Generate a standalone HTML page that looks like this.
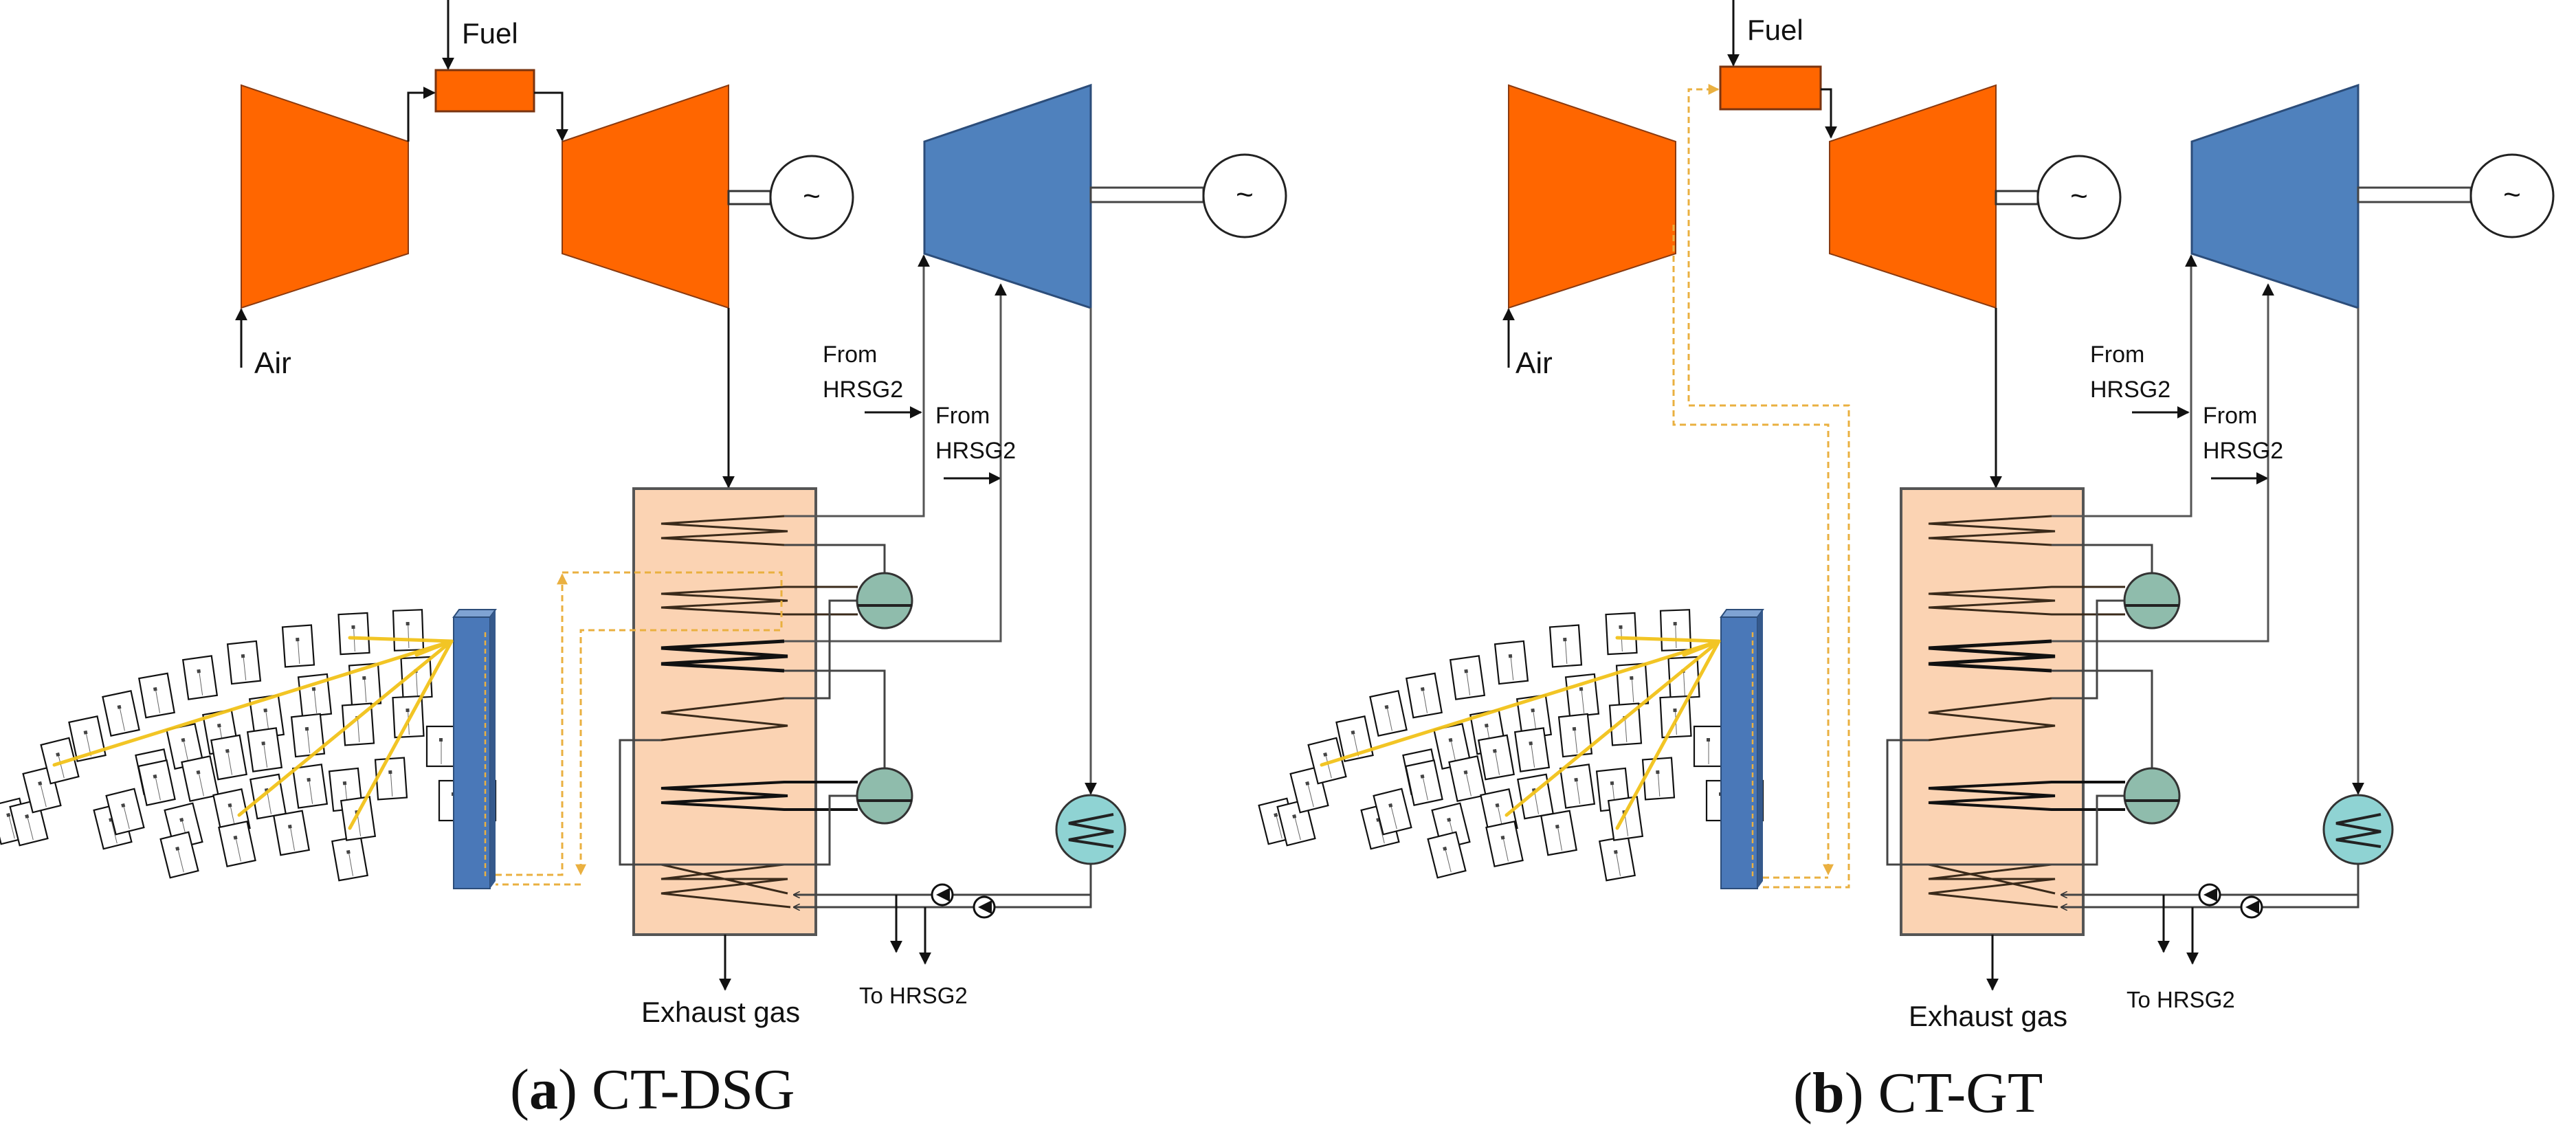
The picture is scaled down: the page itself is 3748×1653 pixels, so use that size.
<!DOCTYPE html>
<html><head><meta charset="utf-8"><style>
html,body{margin:0;padding:0;background:#fff}
svg{display:block}
text{font-family:"Liberation Sans",sans-serif;fill:#111}
.cap{font-family:"Liberation Serif",serif;font-size:84px}
</style></head><body>
<svg width="3748" height="1653" viewBox="0 0 3748 1653" xmlns="http://www.w3.org/2000/svg">
<defs>
<marker id="ar" viewBox="0 0 10 10" refX="9" refY="5" markerWidth="18" markerHeight="18" markerUnits="userSpaceOnUse" orient="auto"><path d="M0,0L10,5L0,10z" fill="#111"/></marker>
<marker id="ars" viewBox="0 0 10 10" refX="9" refY="5" markerWidth="10" markerHeight="10" markerUnits="userSpaceOnUse" orient="auto"><path d="M0,0L10,5L0,10" fill="none" stroke="#333" stroke-width="1.5"/></marker>
<marker id="ay" viewBox="0 0 10 10" refX="9" refY="5" markerWidth="16" markerHeight="16" markerUnits="userSpaceOnUse" orient="auto"><path d="M0,0L10,5L0,10z" fill="#eab040"/></marker>
<g id="hel"><rect x="-21" y="-29" width="42" height="58" fill="#fff" stroke="#111" stroke-width="2.2"/><line x1="0" y1="-8" x2="0" y2="26" stroke="#666" stroke-width="1"/><rect x="-3" y="-12" width="5" height="5" fill="#444"/></g>
<g id="common">
 <!-- gas turbine -->
 <polygon points="351,124 594,206 594,369 351,448" fill="#ff6600" stroke="#8a3a10" stroke-width="2"/>
 <polygon points="818,206 1060,124 1060,448 818,369" fill="#ff6600" stroke="#8a3a10" stroke-width="2"/>
 <rect x="1060" y="278" width="61" height="19" fill="#fff" stroke="#333" stroke-width="3"/>
 <circle cx="1181" cy="287" r="60" fill="#fff" stroke="#222" stroke-width="3"/>
 <text x="1181" y="300" font-size="44" text-anchor="middle">~</text>
 <!-- steam turbine -->
 <polygon points="1345,206 1587,124 1587,448 1345,369" fill="#4f81bd" stroke="#2c4d7a" stroke-width="3"/>
 <rect x="1587" y="273" width="164" height="21" fill="#fff" stroke="#444" stroke-width="3"/>
 <circle cx="1811" cy="285" r="60" fill="#fff" stroke="#222" stroke-width="3"/>
 <text x="1811" y="298" font-size="44" text-anchor="middle">~</text>
 <!-- air / exhaust -->
 <line x1="351" y1="535" x2="351" y2="450" stroke="#111" stroke-width="3" marker-end="url(#ar)"/>
 <line x1="1060" y1="448" x2="1060" y2="709" stroke="#111" stroke-width="3" marker-end="url(#ar)"/>
 <line x1="1258" y1="600" x2="1340" y2="600" stroke="#111" stroke-width="3" marker-end="url(#ar)"/>
 <line x1="1373" y1="696" x2="1455" y2="696" stroke="#111" stroke-width="3" marker-end="url(#ar)"/>
 <!-- HRSG -->
 <rect x="922" y="711" width="265" height="649" fill="#fbd3b3" stroke="#555" stroke-width="4"/>
 <g fill="none" stroke="#3a2a1a" stroke-width="3">
  <polyline points="1141,751 962,762 1146,773 962,783 1141,793"/>
  <polyline points="1248,854 1141,854 962,864 1146,874 962,884 1141,894 1248,894"/>
  <polyline points="1141,933 962,943 1146,955 962,966 1141,976" stroke-width="5" stroke="#111"/>
  <polyline points="1141,1016 962,1037 1146,1056 962,1077"/>
  <polyline points="1248,1138 1141,1138 962,1147 1146,1158 962,1168 1141,1178 1248,1178" stroke-width="4" stroke="#111"/>
  <polyline points="1141,1258 962,1279 1146,1279 962,1300 1150,1320"/>
  <polyline points="962,1258 1146,1300"/>
 </g>
 <g fill="none" stroke="#444" stroke-width="3">
  <polyline points="1141,751 1344,751 1344,372" stroke="#555" marker-end="url(#ar)"/>
  <polyline points="1141,933 1456,933 1456,414" stroke="#555" marker-end="url(#ar)"/>
  <polyline points="1141,793 1287,793 1287,834"/>
  <polyline points="1141,976 1287,976 1287,1117"/>
  <polyline points="1248,874 1207,874 1207,1016 1141,1016"/>
  <polyline points="962,1077 902,1077 902,1258 1207,1258 1207,1158 1248,1158"/>
  <polyline points="1587,448 1587,1155" stroke="#555" marker-end="url(#ar)"/>
  <polyline points="1587,1258 1587,1320 1155,1320" marker-end="url(#ars)"/>
  <polyline points="1587,1302 1155,1302" marker-end="url(#ars)"/>
  <line x1="1304" y1="1302" x2="1304" y2="1385" stroke="#111" marker-end="url(#ar)"/>
  <line x1="1346" y1="1320" x2="1346" y2="1402" stroke="#111" marker-end="url(#ar)"/>
  <line x1="1055" y1="1360" x2="1055" y2="1440" stroke="#111" marker-end="url(#ar)"/>
 </g>
 <circle cx="1287" cy="874" r="40" fill="#8fbcac" stroke="#333" stroke-width="3"/>
 <line x1="1248" y1="881" x2="1327" y2="881" stroke="#222" stroke-width="4"/>
 <circle cx="1287" cy="1158" r="40" fill="#8fbcac" stroke="#333" stroke-width="3"/>
 <line x1="1248" y1="1165" x2="1327" y2="1165" stroke="#222" stroke-width="4"/>
 <circle cx="1587" cy="1207" r="50" fill="#8fd3d3" stroke="#333" stroke-width="3"/>
 <polyline points="1620,1185 1555,1198 1620,1210 1555,1222 1620,1232" fill="none" stroke="#222" stroke-width="4"/>
 <circle cx="1371" cy="1302" r="15" fill="#fff" stroke="#111" stroke-width="3"/>
 <path d="M1382,1292 L1362,1302 L1382,1312z" fill="#111"/>
 <circle cx="1432" cy="1320" r="15" fill="#fff" stroke="#111" stroke-width="3"/>
 <path d="M1443,1310 L1423,1320 L1443,1330z" fill="#111"/>
 <!-- heliostats -->
 <g transform="rotate(0)">
 <use href="#hel" transform="translate(15,1195) rotate(-14)"/>
 <use href="#hel" transform="translate(42,1197) rotate(-14)"/>
 <use href="#hel" transform="translate(61,1149) rotate(-14)"/>
 <use href="#hel" transform="translate(87,1107) rotate(-14)"/>
 <use href="#hel" transform="translate(127,1075) rotate(-12)"/>
 <use href="#hel" transform="translate(176,1038) rotate(-12)"/>
 <use href="#hel" transform="translate(228,1012) rotate(-10)"/>
 <use href="#hel" transform="translate(291,986) rotate(-8)"/>
 <use href="#hel" transform="translate(355,964) rotate(-6)"/>
 <use href="#hel" transform="translate(434,940) rotate(-4)"/>
 <use href="#hel" transform="translate(515,922) rotate(-3)"/>
 <use href="#hel" transform="translate(594,917) rotate(-2)"/>
 <use href="#hel" transform="translate(164,1202) rotate(-14)"/>
 <use href="#hel" transform="translate(182,1181) rotate(-14)"/>
 <use href="#hel" transform="translate(224,1123) rotate(-12)"/>
 <use href="#hel" transform="translate(269,1086) rotate(-12)"/>
 <use href="#hel" transform="translate(321,1065) rotate(-10)"/>
 <use href="#hel" transform="translate(388,1043) rotate(-8)"/>
 <use href="#hel" transform="translate(458,1012) rotate(-6)"/>
 <use href="#hel" transform="translate(531,996) rotate(-4)"/>
 <use href="#hel" transform="translate(606,986) rotate(-3)"/>
 <use href="#hel" transform="translate(228,1139) rotate(-12)"/>
 <use href="#hel" transform="translate(291,1133) rotate(-12)"/>
 <use href="#hel" transform="translate(333,1102) rotate(-10)"/>
 <use href="#hel" transform="translate(385,1091) rotate(-8)"/>
 <use href="#hel" transform="translate(448,1070) rotate(-6)"/>
 <use href="#hel" transform="translate(521,1054) rotate(-4)"/>
 <use href="#hel" transform="translate(594,1043) rotate(-3)"/>
 <use href="#hel" transform="translate(267,1202) rotate(-14)"/>
 <use href="#hel" transform="translate(337,1181) rotate(-12)"/>
 <use href="#hel" transform="translate(390,1159) rotate(-10)"/>
 <use href="#hel" transform="translate(451,1144) rotate(-8)"/>
 <use href="#hel" transform="translate(503,1149) rotate(-6)"/>
 <use href="#hel" transform="translate(569,1133) rotate(-4)"/>
 <use href="#hel" transform="translate(261,1244) rotate(-14)"/>
 <use href="#hel" transform="translate(345,1228) rotate(-12)"/>
 <use href="#hel" transform="translate(424,1212) rotate(-10)"/>
 <use href="#hel" transform="translate(509,1249) rotate(-10)"/>
 <use href="#hel" transform="translate(521,1191) rotate(-8)"/>
 <use href="#hel" transform="translate(642,1086) rotate(0)"/>
 <use href="#hel" transform="translate(660,1165) rotate(0)"/>
 <use href="#hel" transform="translate(700,1165) rotate(0)"/>
 </g>
 <!-- receiver tower -->
 <polygon points="660,898 668,887 721,887 713,898" fill="#7fa3d3" stroke="#2c4d7a" stroke-width="2"/>
 <rect x="660" y="898" width="53" height="395" fill="#4a78b8" stroke="#2c4d7a" stroke-width="2"/>
 <polygon points="713,898 721,887 721,1282 713,1293" fill="#35598c"/>
 <line x1="706" y1="920" x2="706" y2="1280" stroke="#eab040" stroke-width="2.5" stroke-dasharray="7,5"/>
 <!-- rays -->
 <g stroke="#f2c21a" stroke-width="5" stroke-linecap="round" opacity="0.95">
  <line x1="657" y1="933" x2="79" y2="1113"/>
  <line x1="657" y1="933" x2="509" y2="928"/>
  <line x1="657" y1="933" x2="606" y2="953"/>
  <line x1="657" y1="933" x2="348" y2="1186"/>
  <line x1="657" y1="933" x2="509" y2="1205"/>
 </g>
</g>
</defs>

<!-- Panel A -->
<use href="#common"/>
<rect x="634" y="102" width="143" height="60" fill="#ff6600" stroke="#7a3410" stroke-width="3"/>
<polyline points="594,206 594,135 632,135" fill="none" stroke="#111" stroke-width="3" marker-end="url(#ar)"/>
<polyline points="777,135 818,135 818,204" fill="none" stroke="#111" stroke-width="3" marker-end="url(#ar)"/>
<line x1="652" y1="0" x2="652" y2="100" stroke="#111" stroke-width="3" marker-end="url(#ar)"/>
<g fill="none" stroke="#eab040" stroke-width="3" stroke-dasharray="9,6">
 <polyline points="721,1273 818,1273 818,836" marker-end="url(#ay)"/>
 <polyline points="818,833 1137,833 1137,917 845,917 845,1272" marker-end="url(#ay)"/>
 <polyline points="845,1287 721,1287"/>
</g>
<text x="672" y="63" font-size="42">Fuel</text>
<text x="370" y="543" font-size="44">Air</text>
<text x="1197" y="527" font-size="34">From</text>
<text x="1197" y="578" font-size="34">HRSG2</text>
<text x="1361" y="616" font-size="34">From</text>
<text x="1361" y="667" font-size="34">HRSG2</text>
<text x="933" y="1487" font-size="42">Exhaust gas</text>
<text x="1250" y="1460" font-size="33">To HRSG2</text>
<text class="cap" x="742" y="1613">(<tspan font-weight="bold">a</tspan>) CT-DSG</text>

<!-- Panel B -->
<use href="#common" transform="translate(1844,0)"/>
<rect x="2503" y="97" width="146" height="62" fill="#ff6600" stroke="#7a3410" stroke-width="3"/>
<polyline points="2649,130 2664,130 2664,200" fill="none" stroke="#111" stroke-width="3" marker-end="url(#ar)"/>
<line x1="2522" y1="0" x2="2522" y2="95" stroke="#111" stroke-width="3" marker-end="url(#ar)"/>
<g fill="none" stroke="#eab040" stroke-width="3" stroke-dasharray="9,6">
 <polyline points="2435,327 2435,618 2660,618 2660,1272" marker-end="url(#ay)"/>
 <polyline points="2565,1291 2690,1291 2690,590 2457,590 2457,130 2500,130" marker-end="url(#ay)"/>
 <polyline points="2565,1277 2660,1277"/>
</g>
<text x="2542" y="58" font-size="42">Fuel</text>
<text x="2205" y="543" font-size="44">Air</text>
<text x="3041" y="527" font-size="34">From</text>
<text x="3041" y="578" font-size="34">HRSG2</text>
<text x="3205" y="616" font-size="34">From</text>
<text x="3205" y="667" font-size="34">HRSG2</text>
<text x="2777" y="1493" font-size="42">Exhaust gas</text>
<text x="3094" y="1466" font-size="33">To HRSG2</text>
<text class="cap" x="2609" y="1618">(<tspan font-weight="bold">b</tspan>) CT-GT</text>
</svg>
</body></html>
